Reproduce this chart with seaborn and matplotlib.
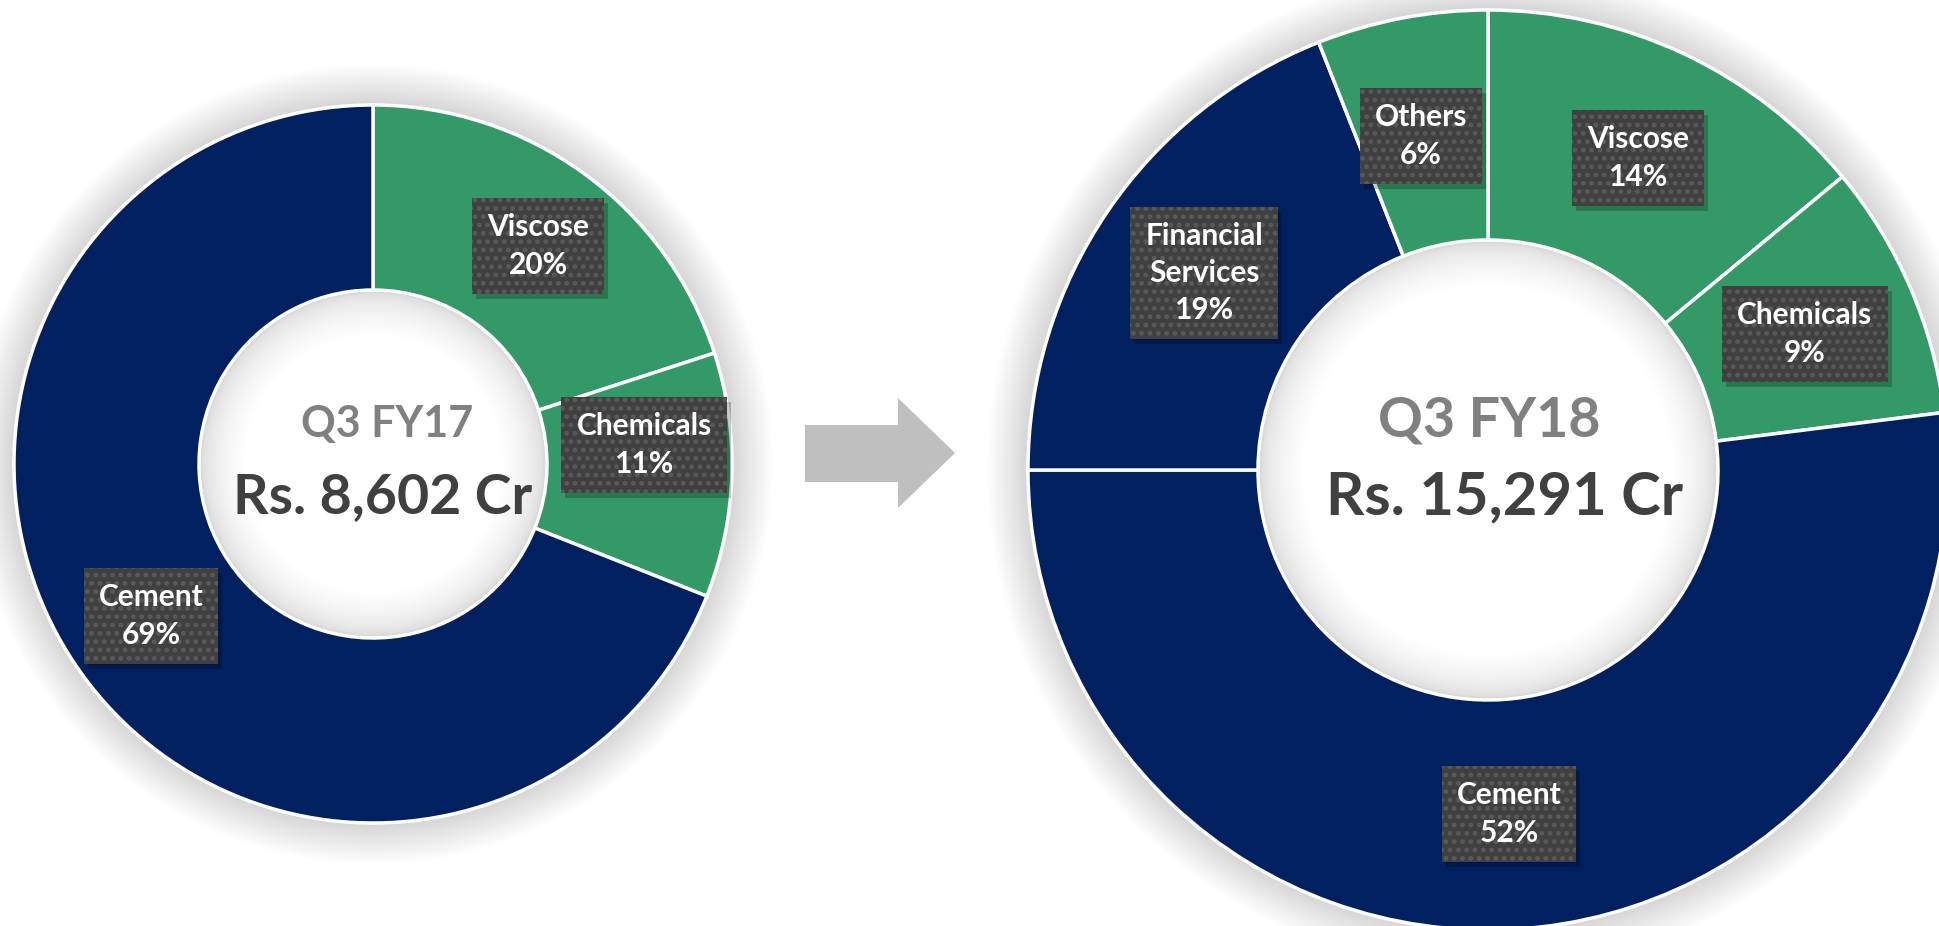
import matplotlib.pyplot as plt
import matplotlib.patches as mpatches
import seaborn as sns

sns.set_theme(style="white")
plt.rcParams["font.family"] = ["Lato", "DejaVu Sans"]
plt.rcParams["hatch.linewidth"] = 2.2

W, H = 1939, 926

# revenue mix, % share by segment
fy17_segments = ["Viscose", "Chemicals", "Cement"]
fy17_share = [20, 11, 69]
fy18_segments = ["Viscose", "Chemicals", "Cement", "Financial\nServices", "Others"]
fy18_share = [14, 9, 52, 19, 6]
periods = ["Q3 FY17", "Q3 FY18"]
revenue = ["Rs. 8,602 Cr", "Rs. 15,291 Cr"]

GREEN, NAVY = "#339966", "#002060"
seg_color = {"Viscose": GREEN, "Chemicals": GREEN, "Cement": NAVY,
             "Financial\nServices": NAVY, "Others": GREEN}

label_texts = []


def draw_donut(ax, segments, shares, center, r_out, r_in, label_xy,
               period, total, title_xy, fs_period, fs_total):
    cx, cy = center
    # soft outer shadow
    for d in range(1, 42, 2):
        ax.add_patch(mpatches.Circle((cx, cy), r_out + d, fc="black",
                                     alpha=0.007, lw=0, zorder=1))
    ax.pie(shares, colors=[seg_color[s] for s in segments], startangle=90,
           counterclock=False, radius=r_out, center=(cx, cy), frame=True,
           wedgeprops=dict(width=r_out - r_in, edgecolor="white", linewidth=2.5,
                           zorder=2))
    # hole with inner shadow
    n = 26
    for k in range(n):
        c = 0.86 + 0.14 * (k / (n - 1)) ** 0.6
        ax.add_patch(mpatches.Circle((cx, cy), r_in - 2 - k * 1.7, fc=(c, c, c),
                                     lw=0, zorder=3))
    ax.add_patch(mpatches.Circle((cx, cy), r_in - 2 - n * 1.7, fc="white",
                                 lw=0, zorder=3))

    for seg, val in zip(segments, shares):
        x, y = label_xy[seg]
        t = ax.text(x, H - y, f"{seg}\n{val}%", ha="center", va="center",
                    color="white", fontsize=21.5, fontweight="bold",
                    linespacing=1.4, zorder=5,
                    bbox=dict(boxstyle="square,pad=0.5", fc="#404040",
                              ec="#5a5a5a", lw=0, hatch=".."))
        label_texts.append(t)

    (tx1, ty1), (tx2, ty2) = title_xy
    ax.text(tx1, H - ty1, period, ha="center", va="center", color="#808080",
            fontsize=fs_period, fontweight="bold", zorder=5)
    ax.text(tx2, H - ty2, total, ha="center", va="center", color="#404040",
            fontsize=fs_total, fontweight="bold", zorder=5)


fig = plt.figure(figsize=(W / 100, H / 100), dpi=100)
ax = fig.add_axes([0, 0, 1, 1])

draw_donut(ax, fy17_segments, fy17_share, (373, H - 464), 359, 174,
           {"Viscose": (538, 246), "Chemicals": (644, 445), "Cement": (151, 616)},
           periods[0], revenue[0], [(387, 424), (383, 497)], 31, 40)

draw_donut(ax, fy18_segments, fy18_share, (1488, H - 470), 460, 230,
           {"Viscose": (1638, 158), "Chemicals": (1805, 334), "Cement": (1509, 814),
            "Financial\nServices": (1204, 273), "Others": (1421, 136)},
           periods[1], revenue[1], [(1489, 420), (1505, 497)], 40, 43)

# transition arrow
arrow_pts = [(805, 425), (898, 425), (898, 398), (955, 453),
             (898, 508), (898, 482), (805, 482)]
ax.add_patch(mpatches.Polygon([(x, H - y) for x, y in arrow_pts],
                              closed=True, fc="#bfbfbf", lw=0, zorder=2))

ax.set_xlim(0, W)
ax.set_ylim(0, H)
ax.set_aspect("equal")
ax.axis("off")

# drop shadows behind the label boxes
fig.canvas.draw()
for t in label_texts:
    bb = t.get_bbox_patch().get_window_extent().transformed(ax.transData.inverted())
    ax.add_patch(mpatches.Rectangle((bb.x0 + 4, bb.y0 - 5), bb.width, bb.height,
                                    fc="black", alpha=0.22, lw=0, zorder=4))

fig.savefig("out.png", dpi=100, facecolor="white")
